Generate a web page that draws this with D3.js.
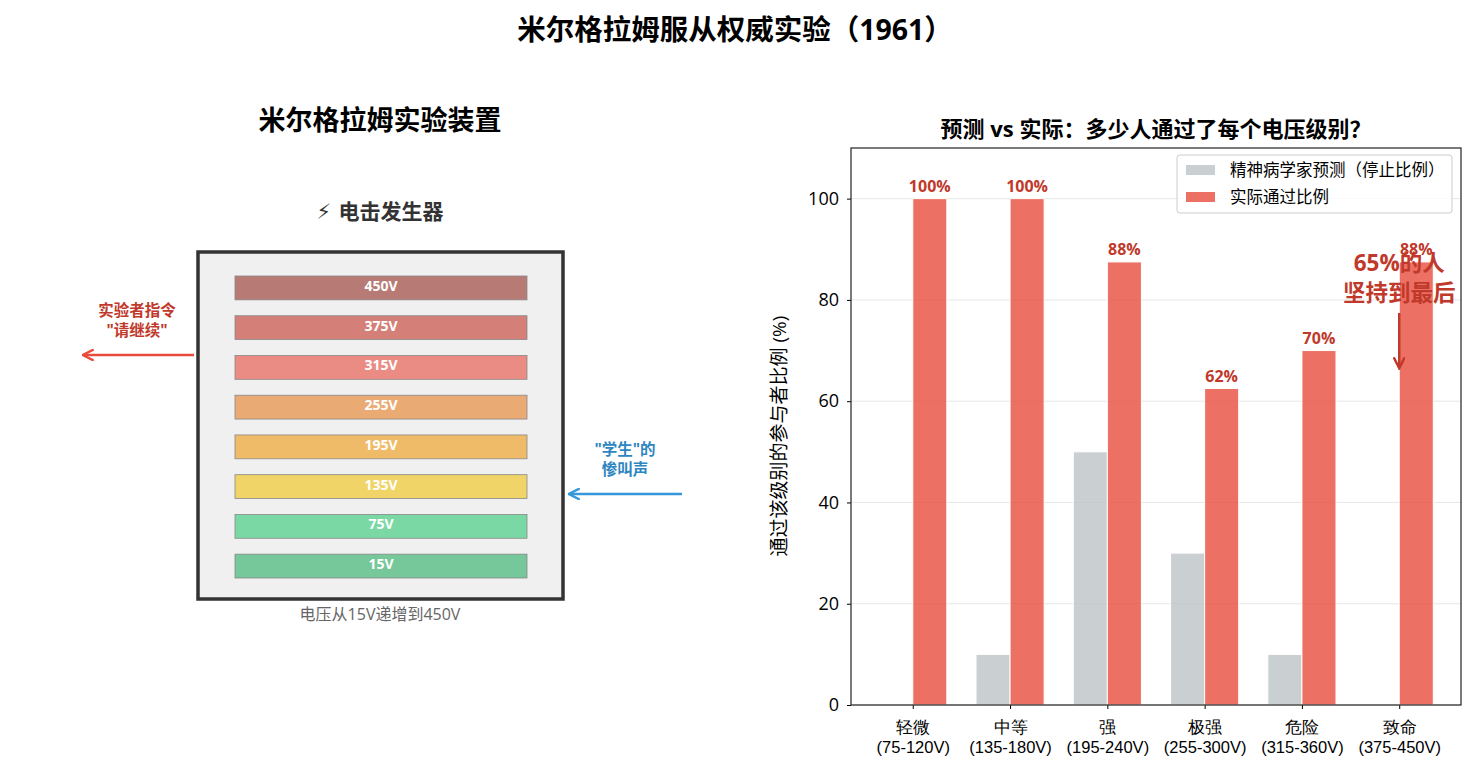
<!DOCTYPE html>
<html>
<head>
<meta charset="utf-8">
<script src="https://cdn.jsdelivr.net/npm/d3@7/dist/d3.min.js"></script>
<style>
  body { margin: 0; background: #fff; }
  svg { display: block; font-family: "Open Sans", "Noto Sans CJK SC", sans-serif; }
</style>
</head>
<body>
<div id="chart"></div>
<script>
// ---- data ----
const levels = ['轻微', '中等', '强', '极强', '危险', '致命'];
const ranges = ['(75-120V)', '(135-180V)', '(195-240V)', '(255-300V)', '(315-360V)', '(375-450V)'];
const predicted = [0, 10, 50, 30, 10, 0];
const actual = [100, 100, 87.5, 62.5, 70, 87.5];
const yTicks = [0, 20, 40, 60, 80, 100];

const voltages = [450, 375, 315, 255, 195, 135, 75, 15];
const switchColors = ['#b87a74', '#d48078', '#ea8c84', '#eaaa74', '#f0bb68', '#f0d468', '#7ad8a4', '#76c799'];

// python style rounding for the percent labels
function roundHalfEven(v) {
  const f = Math.floor(v), d = v - f;
  if (Math.abs(d - 0.5) < 1e-9) return f % 2 === 0 ? f : f + 1;
  return Math.round(v);
}

const W = 1476, H = 772;
const svg = d3.select('#chart').append('svg')
  .attr('width', W)
  .attr('height', H);

const defs = svg.append('defs');
function marker(id, color) {
  defs.append('marker')
    .attr('id', id)
    .attr('viewBox', '0 0 10 10')
    .attr('refX', 8).attr('refY', 5)
    .attr('markerWidth', 5).attr('markerHeight', 5)
    .attr('orient', 'auto-start-reverse')
    .append('path')
    .attr('d', 'M1,1 L9,5 L1,9')
    .attr('fill', 'none')
    .attr('stroke', color)
    .attr('stroke-width', 2)
    .attr('stroke-linecap', 'round');
}
marker('arrRed', '#e74c3c');
marker('arrBlue', '#3498db');
marker('arrDark', '#c0392b');

// main title
svg.append('text')
  .attr('x', 735).attr('y', 40)
  .attr('text-anchor', 'middle')
  .attr('font-size', 28.5).attr('font-weight', 'bold')
  .text('米尔格拉姆服从权威实验（1961）');

// ---- left panel: the generator ----
const left = svg.append('g');

left.append('text')
  .attr('x', 380).attr('y', 130)
  .attr('text-anchor', 'middle')
  .attr('font-size', 27).attr('font-weight', 'bold')
  .text('米尔格拉姆实验装置');

left.append('text')
  .attr('x', 380).attr('y', 219)
  .attr('text-anchor', 'middle')
  .attr('font-size', 21).attr('font-weight', 'bold')
  .attr('fill', '#333')
  .style('font-family', '"DejaVu Sans", "Noto Sans CJK SC", sans-serif')
  .text('\u26A1\uFE0E 电击发生器');

const box = {x: 198, y: 252, w: 365, h: 347};
left.append('rect')
  .attr('x', box.x).attr('y', box.y)
  .attr('width', box.w).attr('height', box.h)
  .attr('fill', '#f0f0f0')
  .attr('stroke', '#333')
  .attr('stroke-width', 3.5);

const sy = d3.scaleBand()
  .domain(voltages)
  .range([276, 578])
  .paddingInner(0.4)
  .paddingOuter(0);

left.selectAll('.switch')
  .data(voltages)
  .join('rect')
  .attr('class', 'switch')
  .attr('x', 235)
  .attr('y', d => sy(d))
  .attr('width', 292)
  .attr('height', sy.bandwidth())
  .attr('fill', (d, i) => switchColors[i])
  .attr('stroke', '#888')
  .attr('stroke-width', 0.8);

left.selectAll('.switch-label')
  .data(voltages)
  .join('text')
  .attr('class', 'switch-label')
  .attr('x', 381)
  .attr('y', d => sy(d) + sy.bandwidth() / 2 - 2)
  .attr('dy', '0.35em')
  .attr('text-anchor', 'middle')
  .attr('font-size', 14).attr('font-weight', 'bold')
  .attr('fill', '#fff')
  .text(d => d + 'V');

left.append('text')
  .attr('x', 380).attr('y', 620)
  .attr('text-anchor', 'middle')
  .attr('font-size', 16)
  .attr('fill', '#666')
  .text('电压从15V递增到450V');

// experimenter arrow
left.append('line')
  .attr('x1', 194).attr('y1', 355)
  .attr('x2', 84).attr('y2', 355)
  .attr('stroke', '#e74c3c').attr('stroke-width', 2.5)
  .attr('marker-end', 'url(#arrRed)');
left.append('text')
  .attr('text-anchor', 'middle')
  .attr('font-size', 15.5).attr('font-weight', 'bold')
  .attr('fill', '#c0392b')
  .selectAll('tspan')
  .data(['实验者指令', '"请继续"'])
  .join('tspan')
  .attr('x', 137)
  .attr('y', (d, i) => 316 + i * 20)
  .text(d => d);

// student arrow
left.append('line')
  .attr('x1', 682).attr('y1', 494)
  .attr('x2', 570).attr('y2', 494)
  .attr('stroke', '#3498db').attr('stroke-width', 2.5)
  .attr('marker-end', 'url(#arrBlue)');
left.append('text')
  .attr('text-anchor', 'middle')
  .attr('font-size', 15.5).attr('font-weight', 'bold')
  .attr('fill', '#2e86c1')
  .selectAll('tspan')
  .data(['"学生"的', '惨叫声'])
  .join('tspan')
  .attr('x', 625)
  .attr('y', (d, i) => 455 + i * 20)
  .text(d => d);

// ---- right panel: bar chart ----
const ax = {left: 851, right: 1461, top: 148, bottom: 705};
const barW = 0.35;

const x = d3.scaleLinear()
  .domain([-0.635, levels.length - 1 + 0.635])
  .range([ax.left, ax.right]);
const y = d3.scaleLinear()
  .domain([0, 110])
  .range([ax.bottom, ax.top]);

const chart = svg.append('g');

chart.append('text')
  .attr('x', (ax.left + ax.right) / 2).attr('y', 137)
  .attr('text-anchor', 'middle')
  .attr('font-size', 22).attr('font-weight', 'bold')
  .text('预测 vs 实际：多少人通过了每个电压级别？');

// grid
chart.append('g')
  .selectAll('line')
  .data(yTicks)
  .join('line')
  .attr('x1', ax.left).attr('x2', ax.right)
  .attr('y1', d => y(d)).attr('y2', d => y(d))
  .attr('stroke', '#b0b0b0')
  .attr('stroke-opacity', 0.3)
  .attr('stroke-width', 1);

const bw = x(barW) - x(0);

chart.append('g')
  .selectAll('rect')
  .data(predicted)
  .join('rect')
  .attr('x', (d, i) => x(i - barW))
  .attr('y', d => y(d))
  .attr('width', bw)
  .attr('height', d => y(0) - y(d))
  .attr('fill', '#bdc3c7').attr('fill-opacity', 0.8)
  .attr('stroke', d => d > 0 ? '#fff' : 'none').attr('stroke-width', 1);

chart.append('g')
  .selectAll('rect')
  .data(actual)
  .join('rect')
  .attr('x', (d, i) => x(i))
  .attr('y', d => y(d))
  .attr('width', bw)
  .attr('height', d => y(0) - y(d))
  .attr('fill', '#e74c3c').attr('fill-opacity', 0.8)
  .attr('stroke', '#fff').attr('stroke-width', 1);

chart.append('g')
  .selectAll('text')
  .data(actual)
  .join('text')
  .attr('x', (d, i) => x(i + barW / 2))
  .attr('y', d => y(d) - 7)
  .attr('text-anchor', 'middle')
  .attr('font-size', 16).attr('font-weight', 'bold')
  .attr('fill', '#c0392b')
  .text(d => roundHalfEven(d) + '%');

// axes
const yAxis = chart.append('g')
  .attr('transform', `translate(${ax.left},0)`)
  .call(d3.axisLeft(y).tickValues(yTicks).tickSize(4).tickPadding(8));
yAxis.select('.domain').remove();
yAxis.selectAll('text')
  .attr('fill', '#000')
  .attr('font-family', '"Open Sans", sans-serif')
  .attr('font-size', 18);

const xAxis = chart.append('g')
  .attr('transform', `translate(0,${ax.bottom})`)
  .call(d3.axisBottom(x).tickValues(d3.range(levels.length)).tickSize(4).tickFormat(''));
xAxis.select('.domain').remove();

xAxis.selectAll('.tick').each(function(d, i) {
  const t = d3.select(this).append('text')
    .attr('fill', '#000')
    .attr('font-size', 16.5)
    .attr('text-anchor', 'middle');
  t.append('tspan').attr('x', 0).attr('y', 28).text(levels[i]);
  t.append('tspan').attr('x', 0).attr('y', 48).text(ranges[i]);
});

chart.append('rect')
  .attr('x', ax.left).attr('y', ax.top)
  .attr('width', ax.right - ax.left).attr('height', ax.bottom - ax.top)
  .attr('fill', 'none')
  .attr('stroke', '#222').attr('stroke-width', 1.2);

chart.append('text')
  .attr('transform', `translate(786,436) rotate(-90)`)
  .attr('text-anchor', 'middle')
  .attr('font-size', 19)
  .text('通过该级别的参与者比例 (%)');

// legend
const legendItems = [
  {label: '精神病学家预测（停止比例）', color: '#bdc3c7'},
  {label: '实际通过比例', color: '#e74c3c'}
];
const legend = chart.append('g').attr('transform', 'translate(1177,155)');
legend.append('rect')
  .attr('width', 275).attr('height', 58)
  .attr('rx', 3)
  .attr('fill', '#fff').attr('fill-opacity', 0.8)
  .attr('stroke', '#ccc');
legend.selectAll('.lg-patch')
  .data(legendItems)
  .join('rect')
  .attr('class', 'lg-patch')
  .attr('x', 9).attr('y', (d, i) => 10 + i * 27)
  .attr('width', 29).attr('height', 10)
  .attr('fill', d => d.color).attr('fill-opacity', 0.8);
legend.selectAll('.lg-text')
  .data(legendItems)
  .join('text')
  .attr('class', 'lg-text')
  .attr('x', 53).attr('y', (d, i) => 15 + i * 27)
  .attr('dy', '0.35em')
  .attr('font-size', 16.5)
  .text(d => d.label);

// annotation
const last = actual.length - 1;
chart.append('text')
  .attr('text-anchor', 'middle')
  .attr('font-size', 22.5).attr('font-weight', 'bold')
  .attr('fill', '#c0392b')
  .selectAll('tspan')
  .data(['65%的人', '坚持到最后'])
  .join('tspan')
  .attr('x', x(last))
  .attr('y', (d, i) => 271 + i * 30)
  .text(d => d);
chart.append('line')
  .attr('x1', x(last)).attr('y1', 313)
  .attr('x2', x(last)).attr('y2', 367)
  .attr('stroke', '#c0392b').attr('stroke-width', 2.5)
  .attr('marker-end', 'url(#arrDark)');
</script>
</body>
</html>
